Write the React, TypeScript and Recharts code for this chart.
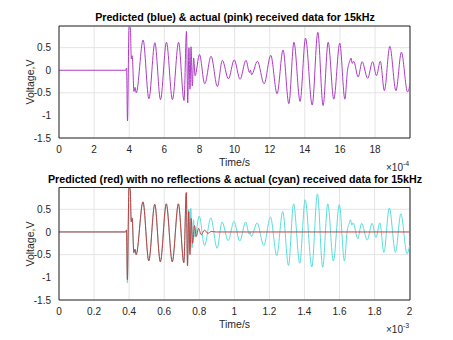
import { LineChart, Line, XAxis, YAxis, CartesianGrid, ReferenceLine } from "recharts";

// time in units of 1e-4 s, voltage in V
const actual: [number, number][] = [
  [0, 0], [3.8, 0], [3.85, 0.05], [3.9, -1.12], [3.99, 0.97], [4.06, 0.95], [4.12, 0.25],
  [4.17, 0.32], [4.27, -0.47], [4.33, -0.38], [4.4, -0.5], [4.79, 0.67], [5.12, -0.63],
  [5.46, 0.61], [5.78, -0.65], [6.12, 0.62], [6.46, -0.65], [6.81, 0.62], [7.12, -0.67],
  [7.26, 0.86], [7.33, -0.72], [7.4, 0.5], [7.46, -0.42], [7.52, 0.52], [7.59, -0.35],
  [7.67, 0.27], [7.75, -0.12], [8.0, 0.35], [8.3, -0.3], [8.66, 0.31], [9.02, -0.36],
  [9.3, 0.22], [9.65, -0.19], [9.98, 0.23], [10.31, -0.2], [10.65, 0.22], [10.85, -0.05],
  [10.9, 0.0], [10.97, -0.1], [11.3, 0.2], [11.68, -0.3], [12.06, 0.33], [12.42, -0.52],
  [12.76, 0.45], [13.09, -0.74], [13.38, 0.62], [13.73, -0.69], [14.04, 0.71], [14.42, -0.77],
  [14.74, 0.84], [15.04, -0.78], [15.33, 0.62], [15.65, -0.64], [15.99, 0.6], [16.28, -0.64],
  [16.43, 0.0], [16.56, 0.2], [16.63, 0.27], [16.7, 0.15], [16.78, 0.2], [17.04, -0.15],
  [17.26, 0.19], [17.58, -0.18], [17.86, 0.19], [18.08, -0.12], [18.3, 0.2], [18.53, -0.45],
  [18.84, 0.53], [19.19, -0.45], [19.5, 0.4], [19.85, -0.48], [20, -0.3],
];

// predicted with no reflections (red, lower plot)
const predictedNoRefl: [number, number][] = [
  [0, 0], [3.8, 0], [3.85, 0.04], [3.9, -1.05], [3.99, 0.97], [4.06, 0.95], [4.12, 0.22],
  [4.17, 0.3], [4.27, -0.45], [4.33, -0.38], [4.4, -0.5], [4.79, 0.66], [5.12, -0.64],
  [5.46, 0.61], [5.78, -0.66], [6.12, 0.62], [6.46, -0.66], [6.81, 0.62], [7.12, -0.68],
  [7.26, 0.87], [7.33, -0.75], [7.4, 0.45], [7.47, -0.5], [7.54, 0.3], [7.62, -0.25],
  [7.73, 0.14], [7.83, -0.1], [7.96, 0.08], [8.11, -0.06], [8.3, 0.04], [8.49, -0.03],
  [8.68, 0.01], [8.97, 0], [20, 0],
];

const topXTicks = [0, 2, 4, 6, 8, 10, 12, 14, 16, 18];
const bottomXTicks = [0, 2, 4, 6, 8, 10, 12, 14, 16, 18, 20];
const bottomXLabels = ["0", "0.2", "0.4", "0.6", "0.8", "1", "1.2", "1.4", "1.6", "1.8", "2"];
const yTicks = [-1.5, -1, -0.5, 0, 0.5];

const toRows = (pts: [number, number][]) => pts.map(([t, v]) => ({ t, v }));

const FONT = "'Liberation Sans', Arial, sans-serif";
const INK = "#262626";
const GRID = "#e4e4e4";
const Y_MAX = 0.98;

type PanelProps = {
  top: number;
  title: string;
  xMax: number;
  xTicks: number[];
  xFormat: (v: number) => string;
  exponent: string;
  plotTop: number;
  axisHeight: number;
  children: React.ReactNode;
};

function Panel({ top, title, xMax, xTicks, xFormat, exponent, plotTop, axisHeight, children }: PanelProps) {
  const tickStyle = { fontSize: 10, fill: INK, fontFamily: FONT };
  return (
    <div style={{ position: "absolute", left: 0, top, width: 453, height: 170 }}>
      <LineChart width={453} height={170} margin={{ top: plotTop, right: 43, bottom: 0, left: 0 }}>
        <CartesianGrid stroke={GRID} />
        <XAxis
          type="number"
          dataKey="t"
          domain={[0, xMax]}
          ticks={xTicks}
          tickFormatter={xFormat}
          height={axisHeight}
          tick={tickStyle}
          tickLine={false}
          axisLine={{ stroke: INK }}
          allowDataOverflow
        />
        <YAxis
          type="number"
          domain={[-1.5, Y_MAX]}
          ticks={yTicks}
          width={59}
          tick={tickStyle}
          tickLine={false}
          axisLine={{ stroke: INK }}
          allowDataOverflow
        />
        <ReferenceLine y={Y_MAX} stroke={INK} />
        <ReferenceLine x={xMax} stroke={INK} />
        {children}
      </LineChart>
      <div
        style={{
          position: "absolute", left: 20, width: 430, top: plotTop - 15, textAlign: "center",
          fontFamily: FONT, fontWeight: "bold", fontSize: 10.7, color: "#000", lineHeight: "12px",
        }}
      >
        {title}
      </div>
      <div
        style={{
          position: "absolute", left: 59, width: 351, top: 170 - axisHeight + 18, textAlign: "center",
          fontFamily: FONT, fontSize: 10.5, color: INK, lineHeight: "12px",
        }}
      >
        Time/s
      </div>
      <div
        style={{
          position: "absolute", left: 386, top: 170 - axisHeight + 20,
          fontFamily: FONT, fontSize: 10, color: INK, lineHeight: "12px",
        }}
      >
        ×10<sup style={{ fontSize: 7, verticalAlign: "5px" }}>{exponent}</sup>
      </div>
      <div
        style={{
          position: "absolute", left: 30, top: plotTop + 56, width: 0, height: 0,
        }}
      >
        <div
          style={{
            position: "absolute", left: -40, top: -6, width: 80, textAlign: "center",
            transform: "rotate(-90deg)", fontFamily: FONT, fontSize: 10.5, color: INK, lineHeight: "12px",
          }}
        >
          Voltage,V
        </div>
      </div>
    </div>
  );
}

export default function App() {
  return (
    <div style={{ position: "absolute", left: 0, top: 0, width: 453, height: 340, background: "#fff" }}>
      <Panel
        top={0}
        title="Predicted (blue) & actual (pink) received data for 15kHz"
        xMax={19.99}
        xTicks={topXTicks}
        xFormat={(v) => String(v)}
        exponent="-4"
        plotTop={26}
        axisHeight={32}
      >
        <Line
          data={toRows(actual)}
          dataKey="v"
          type="monotone"
          stroke="#ad3cc4"
          strokeWidth={1}
          dot={false}
          isAnimationActive={false}
        />
      </Panel>
      <Panel
        top={170}
        title="Predicted (red) with no reflections & actual (cyan) received data for 15kHz"
        xMax={20.02}
        xTicks={bottomXTicks}
        xFormat={(v) => bottomXLabels[bottomXTicks.indexOf(v)] ?? ""}
        exponent="-3"
        plotTop={17.5}
        axisHeight={40}
      >
        <Line
          data={toRows(actual)}
          dataKey="v"
          type="monotone"
          stroke="#5adcdc"
          strokeWidth={1}
          dot={false}
          isAnimationActive={false}
        />
        <Line
          data={toRows(predictedNoRefl)}
          dataKey="v"
          type="monotone"
          stroke="#c83c3c"
          strokeWidth={1}
          dot={false}
          isAnimationActive={false}
        />
      </Panel>
    </div>
  );
}
